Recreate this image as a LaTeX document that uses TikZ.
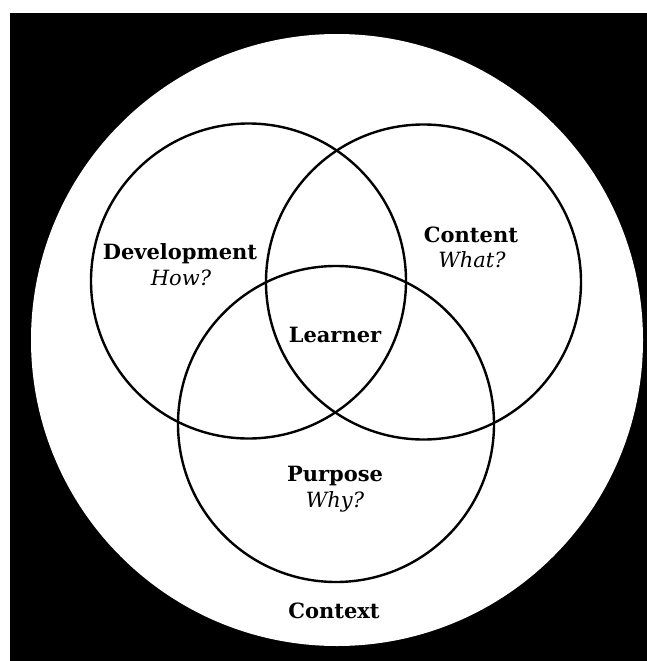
\documentclass[tikz,border=0pt]{standalone}
\usepackage{fontspec}
\setmainfont{DejaVu Serif}
\usepackage{tikz}

\begin{document}
\begin{tikzpicture}[x=1pt,y=-1pt,
  ring/.style={draw=black, line width=2.4pt},
  lbl/.style={font=\fontsize{21}{25}\selectfont\bfseries, anchor=base, inner sep=0pt},
  ask/.style={font=\fontsize{21}{25}\selectfont\itshape, anchor=base, inner sep=0pt}]
\useasboundingbox (0,0) rectangle (647,661);
\fill[white] (0,0) rectangle (647,661);
\fill[black] (10,13) rectangle (647,661);
\fill[white] (337,340) circle (306);
% three overlapping rings
\coordinate (dev) at (248.5,281);
\coordinate (con) at (423.5,282);
\coordinate (pur) at (336,424);
\draw[ring] (dev) circle (157.5);
\draw[ring] (con) circle (157.5);
\draw[ring] (pur) circle (158);
% labels
\node[lbl] (devname) at (180,259) {Development};
\node[ask] (devq) at (181,285) {How?};
\node[lbl] (conname) at (471,242) {Content};
\node[ask] (conq) at (472,267) {What?};
\node[lbl] (learner) at (335,342) {Learner};
\node[lbl] (purname) at (335,481) {Purpose};
\node[ask] (purq) at (335,507) {Why?};
\node[lbl] (context) at (334,618) {Context};
\end{tikzpicture}
\end{document}
